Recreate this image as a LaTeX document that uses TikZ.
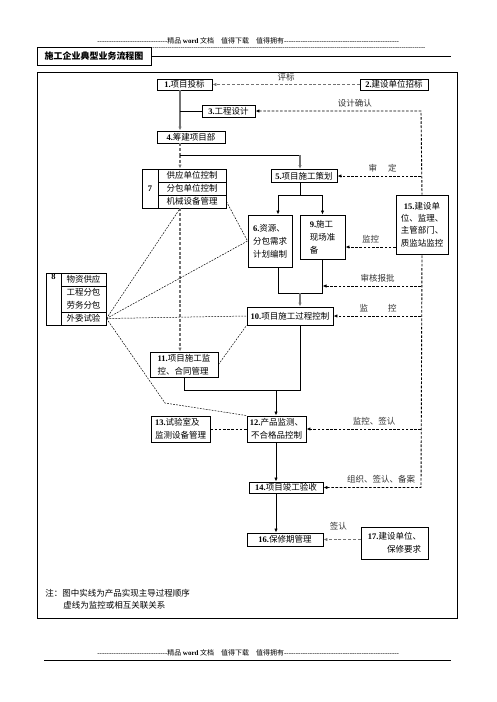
\documentclass[tikz,border=0pt]{standalone}
\usepackage{fontspec}
\setmainfont{Noto Sans CJK SC}
\newfontfamily\latin{Liberation Serif}
\usetikzlibrary{arrows.meta}
\newcommand{\nr}[1]{{\latin\bfseries #1}}
\newcommand{\dashrow}[1]{\makebox[#1]{\latin\xleaders\hbox{-}\hfill}}

\begin{document}
\begin{tikzpicture}[x=1pt,y=-1pt,line width=0.8pt,>={Latex[length=4pt,width=3.4pt]},
  box/.style={draw,line width=0.9pt,inner sep=1pt,fill=white,font=\fontsize{8.5}{13}\selectfont},
  mainln/.style={black!55,line width=1.6pt},
  gdash/.style={black!55,line width=1.4pt,dash pattern=on 3pt off 1.8pt},
  rdash/.style={line width=0.9pt,dash pattern=on 2.6pt off 1.6pt},
  tdash/.style={line width=0.5pt,dash pattern=on 1.8pt off 1.2pt},
  lbl/.style={font=\fontsize{8.5}{10}\selectfont,text=black!80,inner sep=1pt,above=2.5pt}]
  \useasboundingbox (0,0) rectangle (496,702);
  % --- page head ---
  \node[anchor=west,inner sep=0,font=\fontsize{7}{7}\selectfont] (hdr) at (97,41)
    {\dashrow{70pt}精品 {\latin\bfseries word} 文档\quad 值得下载\quad 值得拥有\dashrow{115pt}};
  \node[anchor=west,inner sep=0,font=\fontsize{6.5}{7}\selectfont] (hdr2) at (152,49) {\dashrow{273pt}};
  \node[box,font=\bfseries\fontsize{9}{10}\selectfont,minimum width=114,minimum height=18] (ttl) at (94,56) {施工企业典型业务流程图};
  \draw (ttl.east) -- (451,56);
  \draw[line width=0.9pt] (37,72) rectangle (457,618);
  % --- boxes ---
  \node[box,minimum width=55,minimum height=11] (b1) at (184.5,84.5) {\nr{1.}项目投标};
  \node[box,minimum width=68,minimum height=11] (b2) at (394,84.5) {\nr{2.}建设单位招标};
  \node[box,minimum width=53,minimum height=12] (b3) at (228.5,111) {\nr{3.}工程设计};
  \node[box,minimum width=68,minimum height=12] (b4) at (191,137) {\nr{4.}筹建项目部};
  \node[box,minimum width=66,minimum height=13] (b5) at (304,176) {\nr{5.}项目施工策划};
  \node[box,minimum width=16,minimum height=39] (b7n) at (150,188.5) {\nr{7}};
  \node[box,minimum width=68,minimum height=13] (b7a) at (192,175.5) {供应单位控制};
  \node[box,minimum width=68,minimum height=13] (b7b) at (192,188.5) {分包单位控制};
  \node[box,minimum width=68,minimum height=13] (b7c) at (192,201.5) {机械设备管理};
  \node[box,minimum width=44,minimum height=52,align=left] (b6) at (270,241) {\nr{6.}资源、\\分包需求\\计划编制};
  \node[box,minimum width=45,minimum height=44,align=left] (b9) at (322.5,237) {\nr{9.}施工\\现场准\\备};
  \node[box,minimum width=52,minimum height=59,align=center,font=\fontsize{8.5}{12.3}\selectfont] (b15) at (422,224.5) {\nr{15.}建设单\\位、监理、\\主管部门、\\质监站监控};
  \node[box,minimum width=15,minimum height=52] (b8n) at (53.5,299) {};
  \node[below=1pt,inner sep=0,font=\fontsize{8.5}{10}\selectfont] (n8) at (b8n.north) {\nr{8}};
  \node[box,minimum width=45,minimum height=13] (b8a) at (83.5,279.5) {物资供应};
  \node[box,minimum width=45,minimum height=26,align=center] (b8b) at (83.5,299) {工程分包\\劳务分包};
  \node[box,minimum width=45,minimum height=13] (b8c) at (83.5,318.5) {外委试验};
  \node[box,minimum width=86,minimum height=18] (b10) at (290,316) {\nr{10.}项目施工过程控制};
  \node[box,minimum width=68,minimum height=25,align=left] (b11) at (184,364.5) {\nr{11.}项目施工监\\控、合同管理};
  \node[box,minimum width=59,minimum height=26,align=left] (b13) at (180.5,429) {\nr{13.}试验室及\\监测设备管理};
  \node[box,minimum width=59,minimum height=26,align=center] (b12) at (276.5,429) {\nr{12.}产品监测、\\不合格品控制};
  \node[box,minimum width=74,minimum height=11] (b14) at (286,487.5) {\nr{14.}项目竣工验收};
  \node[box,minimum width=76,minimum height=13] (b16) at (285,539.5) {\nr{16.}保修期管理};
  \node[box,minimum width=67,minimum height=32,align=right] (b17) at (394.5,543) {\nr{17.}建设单位、\\保修要求};
  % --- main flow ---
  \coordinate (tr) at (180,0);
  \coordinate (mc) at (300,0);
  \coordinate (lc) at (276,0);
  \coordinate (c6) at (278,0);
  \coordinate (sp) at (421,0);
  \coordinate (j4) at (180,155);
  \coordinate (j5) at (300,195);
  \coordinate (j6) at (300,293);
  \coordinate (j10) at (276,390);
  \draw[mainln,->] (b1.south -| tr) -- (b4.north -| tr);
  \draw (tr |- b3.west) -- (b3.west);
  \draw[gdash] (b4.south -| tr) -- (j4);
  \draw[gdash,->] (j4) -- (b7a.north -| tr);
  \draw (j4) -- (j4 -| mc);
  \draw[mainln,->] (j4 -| mc) -- (b5.north -| mc);
  \draw (b5.south -| mc) -- (j5);
  \draw[->] (j5) -| (c6 |- b6.north);
  \draw[->] (j5) -| (b9.north);
  \draw (c6 |- b6.south) |- (j6);
  \draw (b9.south) |- (j6);
  \draw[mainln,->] (j6) -- (b10.north -| mc);
  \draw (b10.south -| mc) |- (j10);
  \draw (b11.south) |- (j10);
  \draw[->,line width=0.9pt] (j10) -- (b12.north -| lc);
  \draw[->,line width=0.9pt] (b12.south -| lc) -- (b14.north -| lc);
  \draw[->,line width=0.9pt] (b14.south -| lc) -- (b16.north -| lc);
  \draw[gdash,->] (b7c.south -| tr) -- (b11.north -| tr);
  % --- relations ---
  \coordinate (k8) at (165,403);
  \draw[tdash] (b8c.east) -- (b7c.south -| tr);
  \draw[tdash] (b8c.east) -- (b6.west);
  \draw[tdash] (b8c.east) -- (b10.west);
  \draw[tdash] (b8c.east) -- (k8) -- (b12.north west);
  \draw[tdash] (b7c.east) -- (b6.west);
  \draw[tdash] (b11.east) -- (b10.south west);
  \draw[rdash] (b13.east) -- (b12.west);
  % --- supervision ---
  \coordinate (y9) at (0,247);
  \coordinate (ys) at (0,286);
  \draw[gdash,->] (b2.west) -- (b1.east) node[lbl,pos=0.5,above=0pt,inner sep=0]{评标};
  \draw[rdash,<-] (b3.east) -- (sp |- b3.east) node[lbl,pos=0.6]{设计确认} -- (b15.north);
  \draw[rdash,->] (sp |- b5.east) -- (b5.east) node[lbl,pos=0.46]{审\hspace{11pt}定};
  \draw[rdash,->] (b15.west |- y9) -- (b9.east |- y9) node[lbl,pos=0.5]{监控};
  \draw[rdash,->] (sp |- ys) -- (b9.south |- ys) node[lbl,pos=0.44]{审核报批};
  \draw[rdash,->] (sp |- b10.east) -- (b10.east) node[lbl,pos=0.49]{监\hspace{20pt}控};
  \draw[rdash,->] (sp |- b12.east) -- (b12.east) node[lbl,pos=0.41]{监控、签认};
  \draw[rdash,<-] (b14.east) -- (sp |- b14.east) node[lbl,pos=0.59]{组织、签认、备案} -- (b15.south);
  \draw[gdash,->] (b17.west |- b16.east) -- (b16.east) node[lbl,pos=0.6,above=5pt]{签认};
  % --- note and page foot ---
  \node[anchor=west,inner sep=0,font=\fontsize{8.5}{10}\selectfont] (nt1) at (45,593) {注：图中实线为产品实现主导过程顺序};
  \node[anchor=west,inner sep=0,font=\fontsize{8.5}{10}\selectfont] (nt2) at (63,605) {虚线为监控或相互关联关系};
  \node[anchor=west,inner sep=0,font=\fontsize{7}{7}\selectfont] (ftr) at (97,653)
    {\dashrow{70pt}精品 {\latin\bfseries word} 文档\quad 值得下载\quad 值得拥有\dashrow{115pt}};
  \draw (44,660) -- (451,660);
\end{tikzpicture}
\end{document}
